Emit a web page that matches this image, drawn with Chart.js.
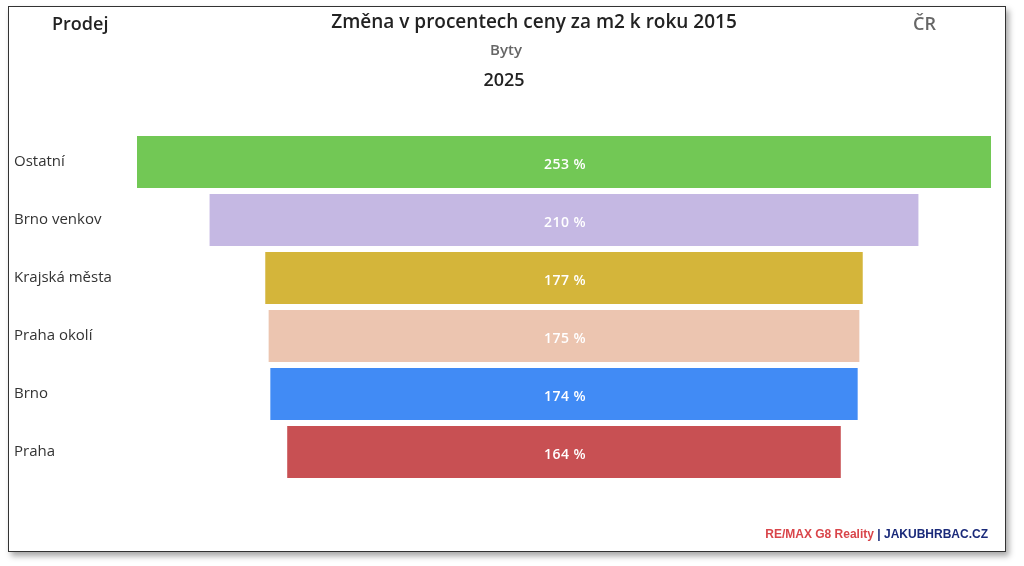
<!DOCTYPE html>
<html><head><meta charset="utf-8">
<script src="https://cdn.jsdelivr.net/npm/chart.js@4"></script>
<style>
body{margin:0;width:1024px;height:566px;background:#fff;font-family:"Open Sans",sans-serif;overflow:hidden}
#frame{position:absolute;left:8px;top:6px;width:996px;height:544px;border:1px solid #333;box-shadow:3px 4px 6px rgba(0,0,0,0.35);background:#fff}
canvas{position:absolute;left:0;top:0}
.t{position:absolute;white-space:nowrap;color:#222}
</style></head><body>
<div id="frame"></div>
<canvas id="c" width="1024" height="566"></canvas>
<div class="t" style="left:52px;top:11px;font-size:18px;font-weight:600">Prodej</div>
<div class="t" style="left:0;width:1068px;text-align:center;top:8px;font-size:19px;font-weight:600">Změna v procentech ceny za m2 k roku 2015</div>
<div class="t" style="left:0;width:1012px;text-align:center;top:39px;font-size:15px;font-weight:600;color:#666">Byty</div>
<div class="t" style="left:0;width:1008px;text-align:center;top:67px;font-size:18px;font-weight:600">2025</div>
<div class="t" style="left:913px;top:11px;font-size:18px;font-weight:600;color:#666">ČR</div>
<div class="t" style="right:36px;top:527px;font-family:'Liberation Sans',Arial,sans-serif;font-size:12px;font-weight:bold"><span style="color:#d9454a">RE/MAX G8 Reality</span> <span style="color:#1a2a7a">| JAKUBHRBAC.CZ</span></div>
<script>
const categories=["Ostatní","Brno venkov","Krajská města","Praha okolí","Brno","Praha"];
const values=[253,210,177,175,174,164];
const colors=["#72c855","#c5b8e3","#d4b53a","#ecc5b0","#418bf5","#c85053"];
const maxV=Math.max(...values);
new Chart(document.getElementById('c'),{
type:'bar',
data:{labels:categories,datasets:[{data:values.map(v=>[-v/2,v/2]),backgroundColor:colors,barPercentage:0.9,categoryPercentage:1}]},
plugins:[{id:'lbl',afterDatasetsDraw(ch){const ctx=ch.ctx;const m=ch.getDatasetMeta(0);ctx.save();ctx.font='600 14px "Open Sans"';ctx.letterSpacing='0.5px';ctx.fillStyle='#fff';ctx.textAlign='center';ctx.textBaseline='middle';m.data.forEach((b,i)=>{ctx.fillText(values[i]+' %',ch.scales.x.getPixelForValue(0)+1,b.y+3);});ctx.restore();}}],
options:{indexAxis:'y',responsive:false,animation:false,
layout:{padding:{top:133,bottom:85,left:14,right:33}},
plugins:{legend:{display:false},tooltip:{enabled:false}},
scales:{x:{display:false,min:-maxV/2,max:maxV/2},
y:{grid:{display:false},border:{display:false},afterFit(s){s.width=123;},ticks:{crossAlign:'far',color:'#333',font:{family:'"Open Sans"',size:15}}}}}
});
</script></body></html>
